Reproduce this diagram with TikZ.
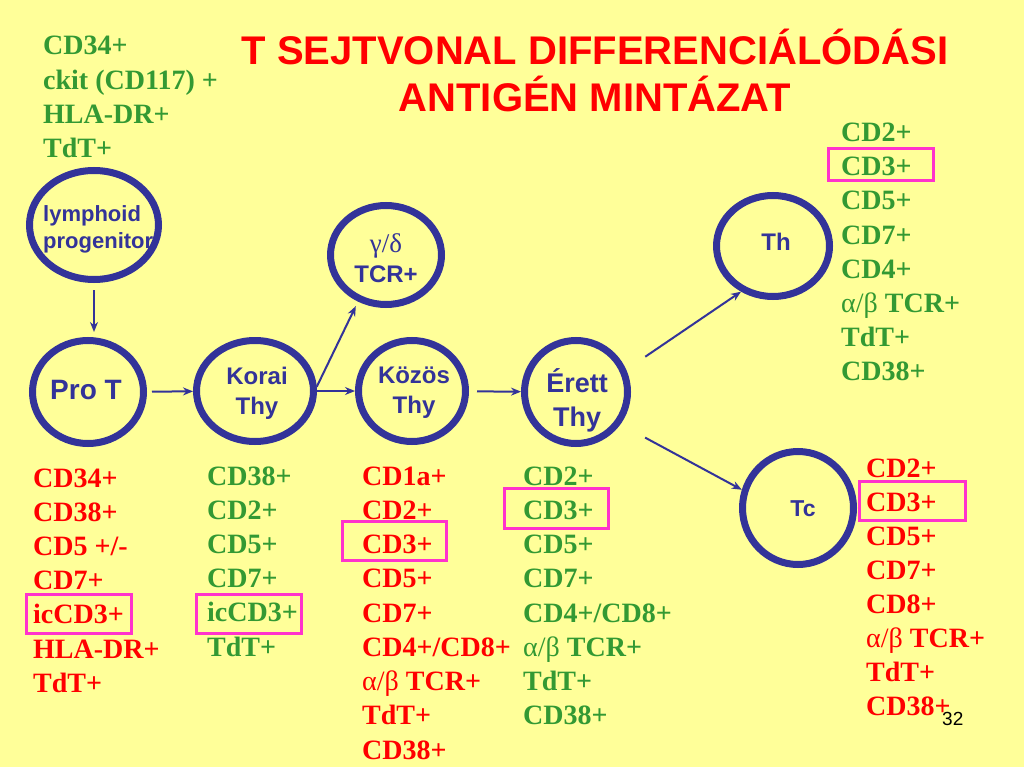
\documentclass[tikz,border=0pt]{standalone}
\usepackage{fontspec}
\setmainfont{Liberation Serif}
\newfontfamily\sansf{Liberation Sans}
\usetikzlibrary{shapes.geometric,arrows.meta}
\definecolor{bgy}{HTML}{FFFF99}
\definecolor{cellblue}{HTML}{333399}
\definecolor{lgreen}{HTML}{339933}
\definecolor{lred}{HTML}{FF0000}
\definecolor{hlmag}{HTML}{FF33CC}
\newcommand{\ab}{{\mdseries α/β}}
\begin{document}
\begin{tikzpicture}[x=1pt,y=-1pt,
  cell/.style={ellipse, draw=cellblue, line width=7pt, inner sep=0pt},
  ctext/.style={font=\sansf\bfseries, text=cellblue, align=center, inner sep=0pt},
  arr/.style={draw=cellblue, line width=2pt, -{Stealth[length=10pt,width=8pt]}},
  lst/.style={anchor=base west, font=\fontsize{28}{34}\selectfont\bfseries, inner sep=0pt},
  hl/.style={draw=hlmag, line width=3pt}]
\fill[bgy] (0,0) rectangle (1024,767);
\useasboundingbox (0,0) rectangle (1024,767);

% title
\node[font=\sansf\bfseries\fontsize{40}{47}\selectfont, text=lred, align=center, inner sep=0pt] (title) at (595,70)
  {T SEJTVONAL DIFFERENCIÁLÓDÁSI\\ANTIGÉN MINTÁZAT};

% cells
\node[ctext, align=left, anchor=west, font=\sansf\bfseries\fontsize{22}{27}\selectfont] (lymphtxt) at (43,229) {lymphoid\\progenitor};
\node[cell, minimum width=129, minimum height=109] (lymph) at (94,225) {};
\node[cell, minimum width=111, minimum height=103] (prot) at (88,392) {};
\node[cell, minimum width=117, minimum height=101] (korai) at (255,391) {};
\node[cell, minimum width=111, minimum height=99] (gd) at (386,255) {};
\node[cell, minimum width=107, minimum height=101] (kozos) at (412,391) {};
\node[cell, minimum width=103, minimum height=103] (erett) at (576,392) {};
\node[cell, minimum width=113, minimum height=101] (th) at (773,246) {};
\node[cell, minimum width=111, minimum height=113] (tc) at (798,508) {};

\node[ctext, font=\sansf\bfseries\fontsize{28}{34}\selectfont] (prottxt) at (86,390) {Pro T};
\node[ctext, font=\sansf\bfseries\fontsize{24}{30}\selectfont] (koraitxt) at (257,393) {Korai\\Thy};
\node[ctext, font=\sansf\bfseries\fontsize{24}{30}\selectfont] (gdtxt) at (386,258) {{\rmfamily\mdseries\fontsize{27}{30}\selectfont γ/δ}\\TCR+};
\node[ctext, font=\sansf\bfseries\fontsize{24}{30}\selectfont] (kozostxt) at (414,393) {Közös\\Thy};
\node[ctext, font=\sansf\bfseries\fontsize{27}{34}\selectfont] (eretttxt) at (577,400) {Érett\\Thy};
\node[ctext, font=\sansf\bfseries\fontsize{24}{30}\selectfont] (thtxt) at (776,242) {Th};
\node[ctext, font=\sansf\bfseries\fontsize{23}{30}\selectfont] (tctxt) at (803,509) {Tc};

% connectors
\draw[arr, shorten <=7pt, shorten >=5pt] (lymph.south) -- (lymph.south |- prot.north);
\draw[arr, shorten <=5pt] (prot) -- (korai);
\draw[arr, shorten >=5pt] (korai.4) -- (gd.239);
\draw[arr] (korai) -- (kozos);
\draw[arr, shorten <=8pt] (kozos) -- (erett);
\draw[arr, shorten <=23pt] (erett.24) -- (th.235);
\draw[arr, shorten <=28pt] (erett.-36) -- (tc.162);

% marker lists
\foreach \t [count=\i from 0] in {CD34+, ckit (CD117) +, HLA-DR+, TdT+}
  \node[lst, text=lgreen] (top\i) at (43,55+34.3*\i) {\t};
\foreach \t [count=\i from 0] in {CD34+, CD38+, CD5 +/-, CD7+, icCD3+, HLA-DR+, TdT+}
  \node[lst, text=lred] (pl\i) at (33,487+34.2*\i) {\t};
\foreach \t [count=\i from 0] in {CD38+, CD2+, CD5+, CD7+, icCD3+, TdT+}
  \node[lst, text=lgreen] (kl\i) at (207,485+34.2*\i) {\t};
\foreach \t [count=\i from 0] in {CD1a+, CD2+, CD3+, CD5+, CD7+, CD4+/CD8+, \ab{} TCR+, TdT+, CD38+}
  \node[lst, text=lred] (zl\i) at (362,485+34.25*\i) {\t};
\foreach \t [count=\i from 0] in {CD2+, CD3+, CD5+, CD7+, CD4+/CD8+, \ab{} TCR+, TdT+, CD38+}
  \node[lst, text=lgreen] (el\i) at (523,485+34.25*\i) {\t};
\foreach \t [count=\i from 0] in {CD2+, CD3+, CD5+, CD7+, CD4+, \ab{} TCR+, TdT+, CD38+}
  \node[lst, text=lgreen] (hl\i) at (841,142+34*\i) {\t};
\foreach \t [count=\i from 0] in {CD2+, CD3+, CD5+, CD7+, CD8+, \ab{} TCR+, TdT+, CD38+}
  \node[lst, text=lred] (cl\i) at (866,477+34*\i) {\t};

% highlight boxes
\draw[hl] (26.5,594.5) rectangle (131.5,633.5);
\draw[hl] (196.5,594.5) rectangle (301.5,633.5);
\draw[hl] (342.5,521.5) rectangle (446.5,560.5);
\draw[hl] (504.5,488.5) rectangle (608.5,528.5);
\draw[hl] (828.5,148.5) rectangle (933.5,180.5);
\draw[hl] (859.5,481.5) rectangle (965.5,520.5);

% page number
\node[font=\sansf\fontsize{19}{19}\selectfont, anchor=base west, inner sep=0pt] (pg) at (942,725) {32};
\end{tikzpicture}
\end{document}
